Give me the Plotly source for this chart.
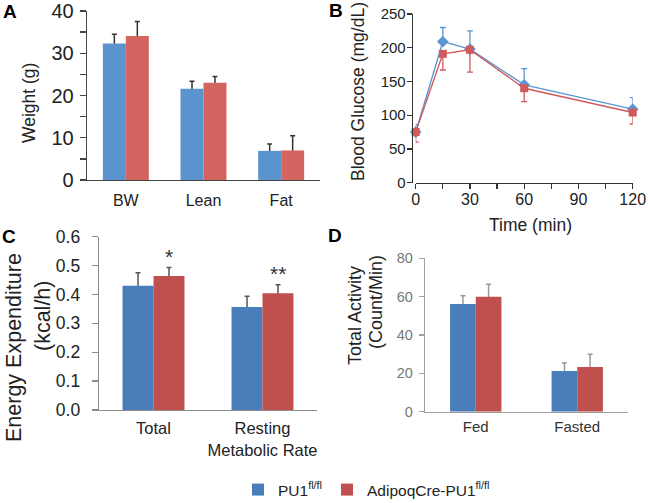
import plotly.graph_objects as go

# ---------------- data ----------------
A_cats = ["BW", "Lean", "Fat"]
A_ctrl = [32.3, 21.6, 6.9]
A_ctrl_err = [2.2, 1.8, 1.6]
A_ko = [34.1, 23.0, 7.0]
A_ko_err = [3.4, 1.5, 3.5]

B_time = [0, 15, 30, 60, 120]
B_ctrl = [75, 209, 198, 145, 109]
B_ctrl_err = [11, 21, 27, 24, 17]
B_ko = [75, 191, 197, 140, 104]
B_ko_err = [15, 24, 33, 20, 17]

C_cats = ["Total", "Resting<br>Metabolic Rate"]
C_ctrl = [0.430, 0.357]
C_ctrl_err = [0.045, 0.037]
C_ko = [0.464, 0.404]
C_ko_err = [0.029, 0.030]
C_sig = ["*", "**"]

D_cats = ["Fed", "Fasted"]
D_ctrl = [56.2, 21.2]
D_ctrl_err = [4.3, 4.2]
D_ko = [60.0, 23.3]
D_ko_err = [6.5, 6.7]

NAME_CTRL = "PU1<sup>fl/fl</sup>"
NAME_KO = "AdipoqCre-PU1<sup>fl/fl</sup>"

# ---------------- style ----------------
W, H = 648, 503
FONT = "Liberation Sans, Arial, sans-serif"


def px_x(p):
    return p / W


def px_y(p):
    return 1 - p / H


fig = go.Figure()


def bar_panel(xa, ya, cats, ctrl, ctrl_err, ko, ko_err, bw, cb, cr, ecol, eminus, legend):
    # error-bar carriers drawn first, so the bars hide the lower part
    for vals, errs, off in ((ctrl, ctrl_err, -bw), (ko, ko_err, 0)):
        fig.add_trace(go.Bar(
            x=cats, y=vals, xaxis=xa, yaxis=ya, width=bw, offset=off,
            marker=dict(color="rgba(0,0,0,0)", line=dict(width=0)),
            error_y=dict(type="data", symmetric=False, array=errs,
                         arrayminus=[eminus] * len(errs), color=ecol,
                         thickness=1.5, width=2.5),
            showlegend=False, hoverinfo="skip"))
    fig.add_trace(go.Bar(x=cats, y=ctrl, xaxis=xa, yaxis=ya, width=bw, offset=-bw,
                         marker=dict(color=cb, line=dict(width=0)),
                         name=NAME_CTRL, showlegend=legend, legendrank=1))
    fig.add_trace(go.Bar(x=cats, y=ko, xaxis=xa, yaxis=ya, width=bw, offset=0,
                         marker=dict(color=cr, line=dict(width=0)),
                         name=NAME_KO, showlegend=legend, legendrank=2))


bar_panel("x", "y", A_cats, A_ctrl, A_ctrl_err, A_ko, A_ko_err, 0.296,
          "#5B93CF", "#D3645F", "#333333", 0.4, False)
bar_panel("x3", "y3", C_cats, C_ctrl, C_ctrl_err, C_ko, C_ko_err, 0.284,
          "#4A7EBB", "#C0504D", "#555555", 0.006, True)
bar_panel("x4", "y4", D_cats, D_ctrl, D_ctrl_err, D_ko, D_ko_err, 0.253,
          "#4A7EBB", "#C0504D", "#999999", 0.8, False)

# Panel B lines
fig.add_trace(go.Scatter(
    x=B_time, y=B_ctrl, xaxis="x2", yaxis="y2", mode="lines+markers",
    line=dict(color="#5B96D2", width=1.4),
    marker=dict(symbol="diamond", size=9, color="#5B96D2"),
    error_y=dict(type="data", symmetric=False, array=B_ctrl_err,
                 arrayminus=[0] * len(B_ctrl_err), color="#5B96D2",
                 thickness=1.3, width=3),
    cliponaxis=False, showlegend=False))
fig.add_trace(go.Scatter(
    x=B_time, y=B_ko, xaxis="x2", yaxis="y2", mode="lines+markers",
    line=dict(color="#D05A5C", width=1.4),
    marker=dict(symbol="square", size=8, color="#D05A5C"),
    error_y=dict(type="data", symmetric=False, array=[0] * len(B_ko_err),
                 arrayminus=B_ko_err, color="#D05A5C",
                 thickness=1.3, width=3),
    cliponaxis=False, showlegend=False))

common_x = dict(showline=True, ticks="", showgrid=False, zeroline=False,
                fixedrange=True)
common_y = dict(showline=True, ticks="outside", showgrid=False, zeroline=False,
                fixedrange=True)

fig.update_layout(
    width=W, height=H,
    margin=dict(l=0, r=0, t=0, b=0, autoexpand=False),
    paper_bgcolor="white", plot_bgcolor="white",
    barmode="overlay",
    font=dict(family=FONT, color="#222222"),
    # Panel A
    xaxis=dict(domain=[px_x(87), px_x(320)], range=[-0.5, 2.5], anchor="y",
               linecolor="#444444", linewidth=1.3,
               tickfont=dict(size=16, color="#222222"), ticklabelstandoff=5,
               **common_x),
    yaxis=dict(domain=[px_y(180), px_y(11)], range=[0, 40], anchor="x",
               dtick=10, ticklen=6, tickwidth=1.3, tickcolor="#444444",
               linecolor="#444444", linewidth=1.3,
               minor=dict(dtick=5, ticks="outside", ticklen=6, tickwidth=1.3,
                          tickcolor="#444444"),
               tickfont=dict(size=20, color="#222222"), ticklabelstandoff=2,
               **common_y),
    # Panel B
    xaxis2=dict(domain=[px_x(415.7), px_x(632.7)], range=[0, 120], anchor="y2",
                showline=True, ticks="outside", ticklen=5, tickwidth=1.3,
                tickcolor="#333333", linecolor="#333333", linewidth=1.3,
                tickvals=[0, 30, 60, 90, 120],
                minor=dict(tickvals=[15, 45, 75, 105], ticks="outside", ticklen=5,
                           tickwidth=1.3, tickcolor="#333333"),
                showgrid=False, zeroline=False, fixedrange=True,
                tickfont=dict(size=16, color="#222222"), ticklabelstandoff=-3),
    yaxis2=dict(domain=[px_y(182.7), px_y(14)], range=[0, 250], anchor="free",
                position=px_x(411.7), dtick=50, ticklen=5, tickwidth=1.3,
                tickcolor="#333333", linecolor="#333333", linewidth=1.3,
                tickfont=dict(size=15, color="#222222"), ticklabelstandoff=-2,
                **common_y),
    # Panel C
    xaxis3=dict(domain=[px_x(99), px_x(317)], range=[-0.5, 1.5], anchor="y3",
                linecolor="#8C8C8C", linewidth=1.3,
                tickfont=dict(size=16.5, color="#222222"), ticklabelstandoff=3,
                **common_x),
    yaxis3=dict(domain=[px_y(410), px_y(236.7)], range=[0, 0.6], anchor="x3",
                dtick=0.1, tickformat=".1f", ticklen=6, tickwidth=1.3,
                tickcolor="#8C8C8C", linecolor="#8C8C8C", linewidth=1.3,
                tickfont=dict(size=17.5, color="#222222"), ticklabelstandoff=8,
                **common_y),
    # Panel D
    xaxis4=dict(domain=[px_x(425), px_x(628)], range=[-0.5, 1.5], anchor="y4",
                linecolor="#A0A0A0", linewidth=1.3,
                tickfont=dict(size=15, color="#333333"), ticklabelstandoff=1,
                **common_x),
    yaxis4=dict(domain=[px_y(411.7), px_y(258.3)], range=[0, 80], anchor="x4",
                dtick=20, ticklen=5, tickwidth=1.3,
                tickcolor="#A0A0A0", linecolor="#A0A0A0", linewidth=1.3,
                tickfont=dict(size=14.5, color="#777777"), ticklabelstandoff=3,
                **common_y),
    legend=dict(orientation="h", x=px_x(238), xanchor="left",
                y=px_y(490), yanchor="middle",
                font=dict(family=FONT, size=15.5, color="#222222"),
                bgcolor="rgba(0,0,0,0)", traceorder="normal"),
)

ann = []


def label(text, x, y, size, angle=0, bold=False, color="#222222"):
    ann.append(dict(text=("<b>%s</b>" % text) if bold else text,
                    x=px_x(x), y=px_y(y), xref="paper", yref="paper",
                    xanchor="center", yanchor="middle", showarrow=False,
                    textangle=angle, font=dict(family=FONT, size=size, color=color)))


# panel letters
label("A", 10, 12, 19, bold=True, color="#000000")
label("B", 336, 10, 19, bold=True, color="#000000")
label("C", 9, 236, 19, bold=True, color="#000000")
label("D", 335, 235, 19, bold=True, color="#000000")

# axis titles
label("Weight (g)", 29, 103, 17.5, angle=-90)
label("Blood Glucose (mg/dL)", 358, 92, 17.5, angle=-90)
label("Time (min)", 530, 225, 17.5)
label("Energy Expenditure", 14, 348, 21.5, angle=-90)
label("(kcal/h)", 43, 316, 21.5, angle=-90)
label("Total Activity", 355, 316, 18, angle=-90)
label("(Count/Min)", 376, 302, 18, angle=-90)

# significance marks above the knockout bars in panel C
for i, s in enumerate(C_sig):
    ann.append(dict(text=s, x=C_cats[i], y=C_ko[i] + C_ko_err[i],
                    xref="x3", yref="y3", xanchor="center", yanchor="bottom",
                    xshift=0.142 * 109, yshift=-2, showarrow=False,
                    font=dict(family=FONT, size=21, color="#333333")))

fig.update_layout(annotations=ann)

fig.write_html("out.html",
               config={"displayModeBar": False, "staticPlot": True},
               post_script="document.body.style.margin='0px';")
